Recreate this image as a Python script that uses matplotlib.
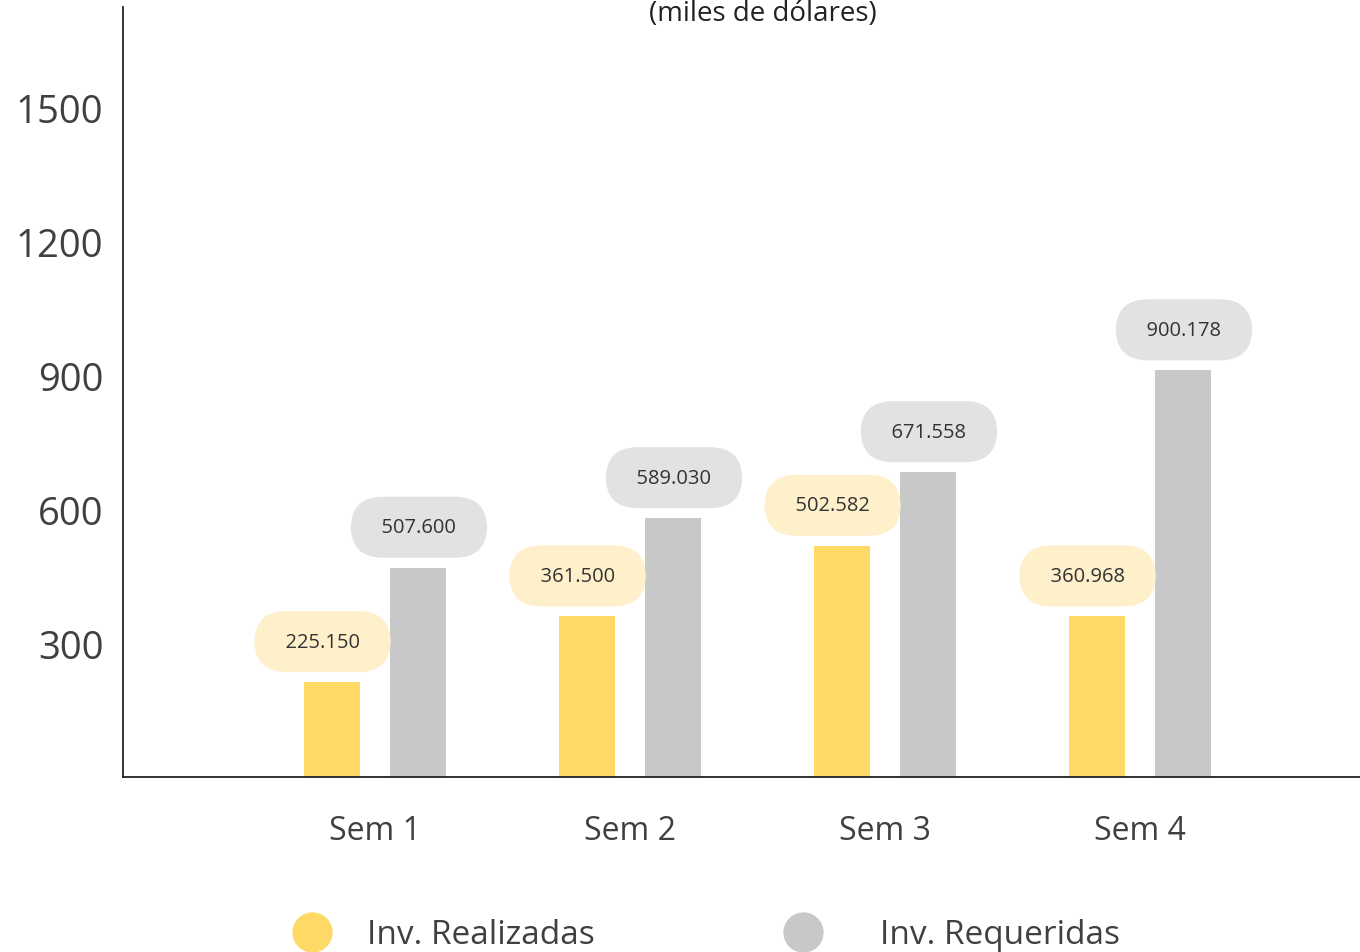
import numpy as np
import matplotlib
matplotlib.use("Agg")
import matplotlib.pyplot as plt
from matplotlib.lines import Line2D

plt.rcParams['font.family'] = ['Open Sans', 'DejaVu Sans']

# datos (miles de dolares)
semestres = ["Sem 1", "Sem 2", "Sem 3", "Sem 4"]
realizadas = [213, 360, 518, 360]
requeridas = [469, 580, 683, 911]
etiquetas_real = ["225.150", "361.500", "502.582", "360.968"]
etiquetas_req = ["507.600", "589.030", "671.558", "900.178"]
marcas_y = [300, 600, 900, 1200, 1500]
series = ["Inv. Realizadas", "Inv. Requeridas"]

amarillo = "#FFD966"
gris = "#C8C8C8"
amarillo_claro = "#FFF0CC"
gris_claro = "#E2E2E2"
texto = "#404040"

W, H = 1360, 953
fig = plt.figure(figsize=(W/100, H/100), dpi=100)
ax = fig.add_axes([123/W, (H-778)/H, 1 - 123/W, (778-8)/H])

x = np.arange(len(semestres))
ancho = 0.22
desp = 0.17
ax.bar(x - desp, realizadas, ancho, color=amarillo)
ax.bar(x + desp, requeridas, ancho, color=gris)

# etiquetas tipo "pastilla" encima de cada barra
caja_r = dict(boxstyle='round,pad=1.02,rounding_size=1.6', fc=amarillo_claro, ec='none')
caja_g = dict(boxstyle='round,pad=1.02,rounding_size=1.6', fc=gris_claro, ec='none')
for i in range(len(semestres)):
    ax.annotate("  " + etiquetas_real[i] + "  ", xy=(x[i] - desp, realizadas[i]),
                xytext=(-6.5, 29), textcoords='offset points',
                ha='center', va='center', fontsize=14.5, color="#333333",
                bbox=caja_r)
    ax.annotate("  " + etiquetas_req[i] + "  ", xy=(x[i] + desp, requeridas[i]),
                xytext=(0.5, 29), textcoords='offset points',
                ha='center', va='center', fontsize=14.5, color="#333333",
                bbox=caja_g)

ax.set_xlim(-0.988, 3.863)
ax.set_ylim(0, 1724)
ax.set_xticks(x)
ax.set_xticklabels(semestres, fontsize=23, color=texto)
ax.set_yticks(marcas_y)
ax.set_yticklabels([str(v) for v in marcas_y], fontsize=27.5, color=texto)
ax.tick_params(axis='y', length=0, pad=14)
ax.tick_params(axis='x', length=0, pad=27)

for s in ['top', 'right']:
    ax.spines[s].set_visible(False)
for s in ['left', 'bottom']:
    ax.spines[s].set_linewidth(1.3)
    ax.spines[s].set_color("#222222")

fig.text(763/W, 1 - 21/H, "(miles de dólares)", ha='center',
         va='baseline', fontsize=20, color="#222222")

# leyenda manual (circulos + texto)
for cx, tx, col, nombre in [(312, 367, amarillo, series[0]),
                            (803, 880, gris, series[1])]:
    fig.add_artist(Line2D([cx/W], [1 - 933/H], marker='o', linestyle='none',
                          markersize=29, markerfacecolor=col,
                          markeredgecolor='none', transform=fig.transFigure))
    fig.text(tx/W, 1 - 936/H, nombre, ha='left', va='center',
             fontsize=24, color=texto)

fig.savefig("out.png", dpi=100)
